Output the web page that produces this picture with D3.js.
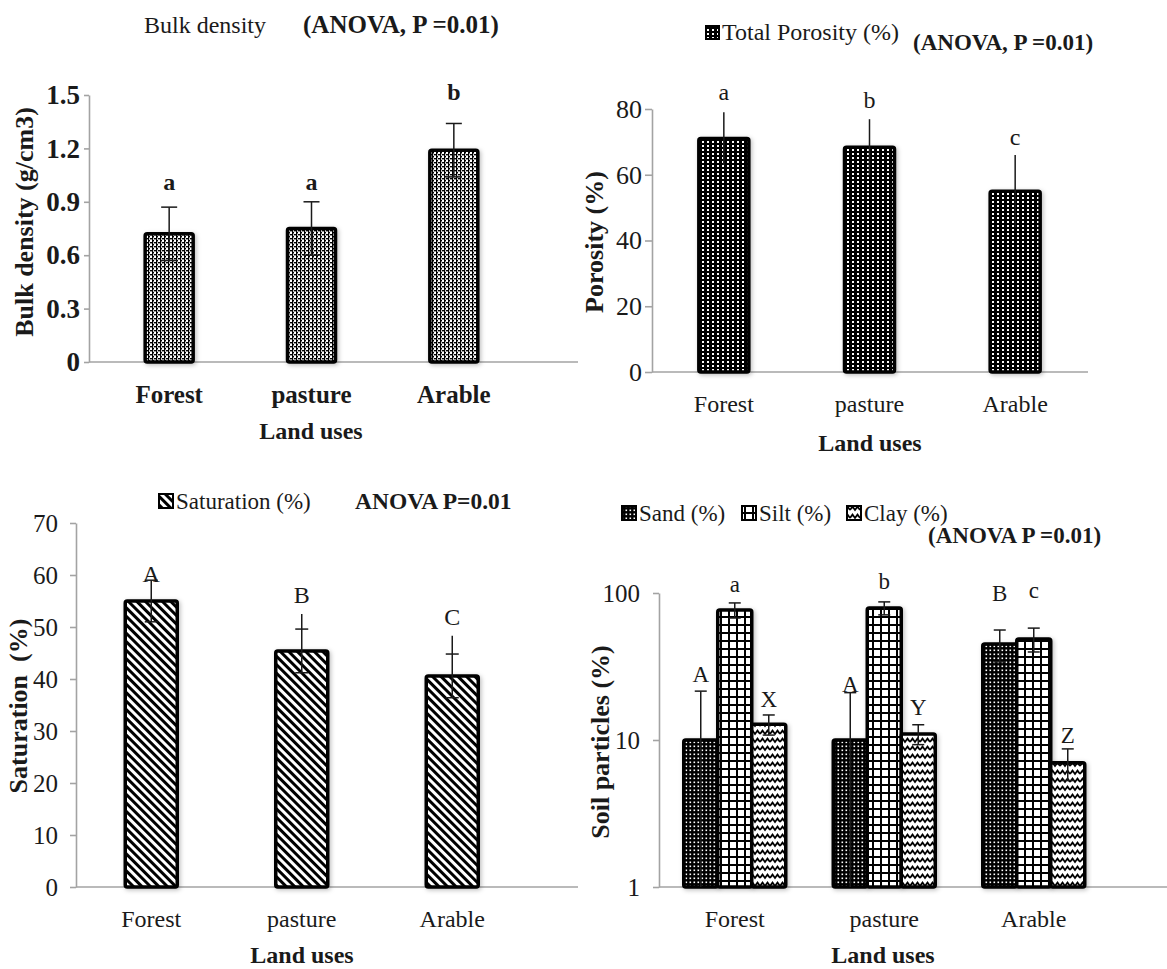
<!DOCTYPE html>
<html>
<head>
<meta charset="utf-8">
<script src="https://cdn.jsdelivr.net/npm/d3@7"></script>
<style>
  body { margin: 0; background: #fff; }
</style>
</head>
<body>
<svg id="chart" width="1167" height="969"></svg>
<script>
// --- Data ---
const categories = ['Forest', 'pasture', 'Arable'];

// Bulk density (g/cm3)
const bulkMean = [0.72, 0.75, 1.19];
const bulkErr = [0.15, 0.15, 0.15];
const bulkLetters = ['a', 'a', 'b'];
const bulkLetterAt = [0.967, 0.967, 1.474];
const bulkTicks = [0, 0.3, 0.6, 0.9, 1.2, 1.5];

// Total porosity (%)
const porosityMean = [71, 68.4, 55];
const porosityErr = [8, 8.5, 11];
const porosityLetters = ['a', 'b', 'c'];
const porosityLetterAt = [82.7, 80.3, 69];
const porosityTicks = [0, 20, 40, 60, 80];

// Saturation (%)
const saturationMean = [55, 45.4, 40.6];
const saturationErr = [4, 4.2, 4.2];
const saturationWhisker = [59, 52.5, 48.3];
const saturationLetters = ['A', 'B', 'C'];
const saturationLetterAt = [58.7, 54.6, 50.4];
const saturationTicks = [0, 10, 20, 30, 40, 50, 60, 70];

// Soil particles (%), log axis
const particleNames = ['Sand (%)', 'Silt (%)', 'Clay (%)'];
const sandMean = [10, 10, 45];
const sandErr = [11.5, 11, 11];
const siltMean = [76.6, 79, 48.7];
const siltErr = [9, 8, 9];
const clayMean = [12.8, 11, 7];
const clayErr = [2, 1.7, 1.7];
const sandLetters = ['A', 'A', 'B'];
const siltLetters = ['a', 'b', 'c'];
const clayLetters = ['X', 'Y', 'Z'];
const sandLetterAt = [24.8, 21.2, 88.2];
const siltLetterAt = [101.6, 106.4, 92.5];
const clayLetterAt = [16.8, 14.8, 9.5];
const particleTicks = [1, 10, 100];

// --- Setup ---
const FONT = '"Liberation Serif", "Times New Roman", Tinos, "DejaVu Serif", serif';
const AXIS_GREY = '#a3a3a3';
const INK = '#1a1a1a';
const svg = d3.select('#chart').attr('font-family', FONT);
const defs = svg.append('defs');

function addPattern(id, w, h, bg, draw, transform) {
  const p = defs.append('pattern')
    .attr('id', id)
    .attr('patternUnits', 'userSpaceOnUse')
    .attr('width', w)
    .attr('height', h);
  if (transform) p.attr('patternTransform', transform);
  p.append('rect').attr('width', w).attr('height', h).attr('fill', bg);
  draw(p);
}

// light lattice (bulk density)
addPattern('pLattice', 4, 4, '#fff', p => {
  p.append('rect').attr('x', 0).attr('y', 0).attr('width', 2).attr('height', 1.4).attr('fill', '#000');
  p.append('rect').attr('x', 2).attr('y', 2).attr('width', 2).attr('height', 1.4).attr('fill', '#000');
  p.append('rect').attr('x', 0).attr('y', 0).attr('width', 1.2).attr('height', 4).attr('fill', '#000');
});
// dark with white dots (porosity)
addPattern('pDarkDots', 5, 4, '#000', p => {
  p.append('rect').attr('x', 2).attr('y', 1).attr('width', 2).attr('height', 2).attr('fill', '#fff');
});
// diagonal stripes (saturation)
addPattern('pStripes', 6, 6, '#fff', p => {
  p.append('rect').attr('x', 0).attr('y', 0).attr('width', 3).attr('height', 6).attr('fill', '#000');
}, 'rotate(-45)');
// sand: dense dark dots
addPattern('pSand', 4, 4, '#000', p => {
  p.append('rect').attr('x', 1.5).attr('y', 1.5).attr('width', 1.6).attr('height', 1.6).attr('fill', '#fff');
});
// silt: grid
addPattern('pSilt', 8, 8, '#fff', p => {
  p.append('rect').attr('x', 0).attr('y', 0).attr('width', 2).attr('height', 8).attr('fill', '#000');
  p.append('rect').attr('x', 0).attr('y', 0).attr('width', 8).attr('height', 2).attr('fill', '#000');
});
// clay: zigzag waves
addPattern('pClay', 10, 8, '#fff', p => {
  p.append('path').attr('d', 'M0,6 L2.5,2.5 L5,6 L7.5,2.5 L10,6')
    .attr('fill', 'none').attr('stroke', '#000').attr('stroke-width', 1.8);
});

const shadow = defs.append('filter').attr('id', 'shadow')
  .attr('x', '-20%').attr('y', '-10%').attr('width', '140%').attr('height', '120%');
shadow.append('feDropShadow')
  .attr('dx', 1.5).attr('dy', 1.5).attr('stdDeviation', 2)
  .attr('flood-color', '#000').attr('flood-opacity', 0.25);

// all text goes through here so the serif face is always set on the element
function label(sel, size, bold) {
  return sel.append('text')
    .attr('font-family', FONT)
    .attr('font-size', size)
    .attr('font-weight', bold ? 'bold' : 'normal')
    .attr('fill', INK);
}

// --- Panel drawing ---
function drawPanel(cfg) {
  const g = svg.append('g');
  const x = d3.scaleBand().domain(categories).range(cfg.bandRange);
  const y = cfg.y;
  const base = y.domain()[0];
  const n = cfg.series.length;
  const groupW = cfg.barW * n;

  // y axis
  const yAxis = d3.axisLeft(y)
    .tickValues(cfg.ticks)
    .tickFormat(cfg.tickFormat)
    .tickSizeInner(cfg.tickLen)
    .tickSizeOuter(0)
    .tickPadding(cfg.tickPad);
  const ya = g.append('g').attr('transform', `translate(${cfg.axisX},0)`).call(yAxis);
  ya.attr('font-family', FONT);
  ya.select('.domain').attr('stroke', AXIS_GREY).attr('stroke-width', 1.6);
  ya.selectAll('.tick line').attr('stroke', AXIS_GREY).attr('stroke-width', 1.6);
  ya.selectAll('.tick text')
    .attr('font-family', FONT)
    .attr('fill', INK)
    .attr('font-size', cfg.tickFont)
    .attr('font-weight', cfg.tickBold ? 'bold' : 'normal');

  // x axis line
  g.append('line')
    .attr('x1', cfg.axisX).attr('x2', cfg.axisEnd)
    .attr('y1', y(base)).attr('y2', y(base))
    .attr('stroke', AXIS_GREY).attr('stroke-width', 1.6);

  // bars, error bars, letters
  cfg.series.forEach((s, j) => {
    const bx = cat => x(cat) + x.bandwidth() / 2 - groupW / 2 + j * cfg.barW;
    const cx = cat => bx(cat) + cfg.barW / 2;

    g.selectAll(null)
      .data(categories)
      .join('rect')
      .attr('x', d => bx(d))
      .attr('y', (d, i) => y(s.mean[i]))
      .attr('width', cfg.barW)
      .attr('height', (d, i) => y(base) - y(s.mean[i]))
      .attr('rx', 2)
      .attr('fill', `url(#${s.pattern})`)
      .attr('stroke', '#000')
      .attr('stroke-width', 3.5)
      .attr('filter', 'url(#shadow)');

    categories.forEach((cat, i) => {
      const hi = s.mean[i] + s.err[i];
      const lo = s.mean[i] - s.err[i];
      const loClamped = lo > base ? lo : base;
      const top = s.whisker ? s.whisker[i] : hi;
      const ex = cx(cat);
      g.append('line')
        .attr('x1', ex).attr('x2', ex)
        .attr('y1', y(loClamped)).attr('y2', y(top))
        .attr('stroke', INK).attr('stroke-width', 1.5);
      if (cfg.capW) {
        const caps = [hi];
        if (lo > base) caps.push(lo);
        caps.forEach(v => {
          g.append('line')
            .attr('x1', ex - cfg.capW / 2).attr('x2', ex + cfg.capW / 2)
            .attr('y1', y(v)).attr('y2', y(v))
            .attr('stroke', INK).attr('stroke-width', 1.5);
        });
      }
      label(g, cfg.letterFont, cfg.letterBold)
        .attr('x', ex)
        .attr('y', y(s.letterAt[i]))
        .attr('text-anchor', 'middle')
        .text(s.letters[i]);
    });
  });

  // category labels
  categories.forEach(cat => {
    label(g, cfg.catFont, cfg.catBold)
      .attr('x', x(cat) + x.bandwidth() / 2)
      .attr('y', cfg.catBaseline)
      .attr('text-anchor', 'middle')
      .text(cat);
  });

  // x title
  label(g, 24, true)
    .attr('x', cfg.xTitleX)
    .attr('y', cfg.xTitleBaseline)
    .attr('text-anchor', 'middle')
    .text('Land uses');

  // y title
  label(g, 26, true)
    .attr('transform', `translate(${cfg.yTitleX},${cfg.yTitleY}) rotate(-90)`)
    .attr('text-anchor', 'middle')
    .style('white-space', 'pre')
    .text(cfg.yTitle);

  // header (legend entries and ANOVA note)
  cfg.header.forEach(h => {
    if (h.swatch) {
      g.append('rect')
        .attr('x', h.x).attr('y', h.y - h.size - 1)
        .attr('width', h.size).attr('height', h.size)
        .attr('fill', `url(#${h.swatch})`)
        .attr('stroke', '#000').attr('stroke-width', 2);
      label(g, h.font, false)
        .attr('x', h.x + h.size + 3).attr('y', h.y)
        .text(h.text);
    } else {
      label(g, h.font, h.bold)
        .attr('x', h.x).attr('y', h.y)
        .style('white-space', 'pre')
        .text(h.text);
    }
  });
}

// Panel 1: bulk density
drawPanel({
  bandRange: [98, 525],
  axisX: 89, axisEnd: 578,
  y: d3.scaleLinear().domain([0, 1.5]).range([362, 95]),
  ticks: bulkTicks, tickFormat: d => d === 0 ? '0' : d3.format('.1f')(d),
  tickLen: 5, tickPad: 4, tickFont: 27, tickBold: true,
  barW: 48, capW: 16,
  letterFont: 24, letterBold: true,
  series: [{ mean: bulkMean, err: bulkErr, letters: bulkLetters, letterAt: bulkLetterAt, pattern: 'pLattice' }],
  catBaseline: 403, catFont: 25, catBold: true,
  xTitleX: 311, xTitleBaseline: 439,
  yTitle: 'Bulk density (g/cm3)', yTitleX: 33, yTitleY: 222,
  header: [
    { text: 'Bulk density', x: 144, y: 33, font: 24 },
    { text: '(ANOVA, P =0.01)', x: 303, y: 33, font: 25, bold: true }
  ]
});

// Panel 2: total porosity
drawPanel({
  bandRange: [651, 1088],
  axisX: 652, axisEnd: 1088,
  y: d3.scaleLinear().domain([0, 80]).range([372, 109]),
  ticks: porosityTicks, tickFormat: d3.format('d'),
  tickLen: 7, tickPad: 3, tickFont: 26, tickBold: false,
  barW: 50, capW: 0,
  letterFont: 24, letterBold: false,
  series: [{ mean: porosityMean, err: porosityErr, letters: porosityLetters, letterAt: porosityLetterAt, pattern: 'pDarkDots' }],
  catBaseline: 412, catFont: 24, catBold: false,
  xTitleX: 870, xTitleBaseline: 451,
  yTitle: 'Porosity (%)', yTitleX: 603, yTitleY: 242,
  header: [
    { text: 'Total Porosity (%)', x: 706, y: 40, font: 24, swatch: 'pDarkDots', size: 13 },
    { text: '(ANOVA, P =0.01)', x: 913, y: 50, font: 23, bold: true }
  ]
});

// Panel 3: saturation
drawPanel({
  bandRange: [76, 527.5],
  axisX: 76, axisEnd: 578,
  y: d3.scaleLinear().domain([0, 70]).range([887, 523]),
  ticks: saturationTicks, tickFormat: d3.format('d'),
  tickLen: 6, tickPad: 12, tickFont: 25, tickBold: false,
  barW: 52, capW: 13,
  letterFont: 24, letterBold: false,
  series: [{ mean: saturationMean, err: saturationErr, whisker: saturationWhisker, letters: saturationLetters, letterAt: saturationLetterAt, pattern: 'pStripes' }],
  catBaseline: 927, catFont: 24, catBold: false,
  xTitleX: 302, xTitleBaseline: 963,
  yTitle: 'Saturation  (%)', yTitleX: 27, yTitleY: 706,
  header: [
    { text: 'Saturation (%)', x: 159, y: 509, font: 23, swatch: 'pStripes', size: 14 },
    { text: 'ANOVA P=0.01', x: 355, y: 509, font: 23.5, bold: true }
  ]
});

// Panel 4: soil particles (log scale)
drawPanel({
  bandRange: [660, 1108.5],
  axisX: 659, axisEnd: 1167,
  y: d3.scaleLog().domain([1, 100]).range([887, 593]),
  ticks: particleTicks, tickFormat: d3.format('d'),
  tickLen: 6, tickPad: 13, tickFont: 25, tickBold: false,
  barW: 34, capW: 12,
  letterFont: 23, letterBold: false,
  series: [
    { mean: sandMean, err: sandErr, letters: sandLetters, letterAt: sandLetterAt, pattern: 'pSand' },
    { mean: siltMean, err: siltErr, letters: siltLetters, letterAt: siltLetterAt, pattern: 'pSilt' },
    { mean: clayMean, err: clayErr, letters: clayLetters, letterAt: clayLetterAt, pattern: 'pClay' }
  ],
  catBaseline: 927, catFont: 24, catBold: false,
  xTitleX: 883, xTitleBaseline: 963,
  yTitle: 'Soil particles (%)', yTitleX: 609, yTitleY: 742,
  header: [
    { text: particleNames[0], x: 622, y: 521, font: 23, swatch: 'pSand', size: 14 },
    { text: particleNames[1], x: 742, y: 521, font: 23, swatch: 'pSilt', size: 14 },
    { text: particleNames[2], x: 847, y: 521, font: 23, swatch: 'pClay', size: 14 },
    { text: '(ANOVA P =0.01)', x: 928, y: 543, font: 23, bold: true }
  ]
});
</script>
</body>
</html>
